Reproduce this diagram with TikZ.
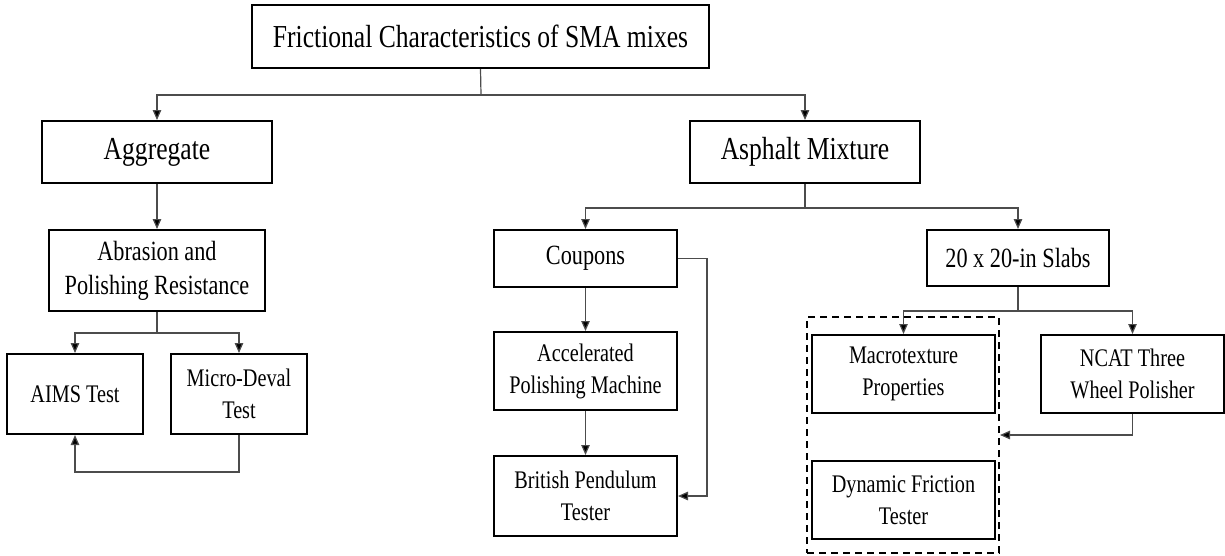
\documentclass[tikz,border=0pt]{standalone}
\usepackage{fontspec}
\setmainfont{Liberation Serif}[FakeStretch=0.8]
\usetikzlibrary{arrows.meta}
\begin{document}
\begin{tikzpicture}[x=1pt,y=-1pt,
  box/.style={draw=black,line width=2pt,rectangle,inner sep=0pt,align=center,text=black},
  big/.style={box,font=\fontsize{32}{40}\selectfont},
  mid/.style={box,font=\fontsize{27.8}{34}\selectfont},
  small/.style={box,font=\fontsize{25.3}{32}\selectfont},
  conn/.style={draw=black!70,line width=1.2pt,-{Triangle[length=10pt,width=8.5pt,fill=black]}},
  plain/.style={draw=black!70,line width=1.2pt},
  grpbox/.style={draw=black,line width=2pt,dash pattern=on 7pt off 5pt,rectangle,inner sep=0pt}]
\useasboundingbox (0,0) rectangle (1225,555);
% nodes
\node[big,minimum width=457pt,minimum height=63pt] (title) at (480.5,36.5) {Frictional Characteristics of SMA mixes};
\node[big,minimum width=230pt,minimum height=62pt] (agg) at (157,152) {Aggregate};
\node[big,minimum width=230pt,minimum height=62pt] (asph) at (805,152) {Asphalt Mixture};
\node[mid,minimum width=216pt,minimum height=81pt] (abr) at (157,270.5) {Abrasion and\\Polishing Resistance};
\node[small,minimum width=136pt,minimum height=80pt] (aims) at (75,394) {AIMS Test};
\node[small,minimum width=136pt,minimum height=80pt] (micro) at (239,394) {Micro-Deval\\Test};
\node[mid,minimum width=183pt,minimum height=57pt] (coup) at (585.5,258.5) {Coupons};
\node[small,minimum width=183pt,minimum height=78pt] (apm) at (585.5,371) {Accelerated\\Polishing Machine};
\node[small,minimum width=183pt,minimum height=80pt] (bpt) at (585.5,496) {British Pendulum\\Tester};
\node[mid,minimum width=182pt,minimum height=56pt] (slabs) at (1018,258) {20 x 20-in Slabs};
\node[small,minimum width=183pt,minimum height=78pt] (macro) at (903.5,374) {Macrotexture\\Properties};
\node[small,minimum width=183pt,minimum height=78pt] (ncat) at (1132.5,374) {NCAT Three\\Wheel Polisher};
\node[small,minimum width=183pt,minimum height=78pt] (dyn) at (903.5,500) {Dynamic Friction\\Tester};
\node[grpbox,minimum width=192pt,minimum height=236pt] (grp) at (903,435) {};
% connectors
\coordinate (j1) at (481,95);
\draw[plain] (title.south) -- (j1);
\draw[conn] (j1) -| (agg.north);
\draw[conn] (j1) -| (asph.north);
\draw[conn] (agg.south) -- (abr.north);
\coordinate (j2) at (157,333);
\draw[plain] (abr.south) -- (j2);
\draw[conn] (j2) -| (aims.north);
\draw[conn] (j2) -| (micro.north);
\draw[conn] (micro.south) -- ++(0,37) -| (aims.south);
\coordinate (j3) at (805,208);
\draw[plain] (asph.south) -- (j3);
\draw[conn] (j3) -| (coup.north);
\draw[conn] (j3) -| (slabs.north);
\draw[conn] (coup.south) -- (apm.north);
\draw[conn] (apm.south) -- (bpt.north);
\draw[conn] (coup.east) -- ++(29,0) |- (bpt.east);
\coordinate (j4) at (1018,311);
\draw[plain] (slabs.south) -- (j4);
\draw[conn] (j4) -| (macro.north);
\draw[conn] (j4) -| (ncat.north);
\draw[conn] (ncat.south) |- (grp.east);
\end{tikzpicture}
\end{document}
